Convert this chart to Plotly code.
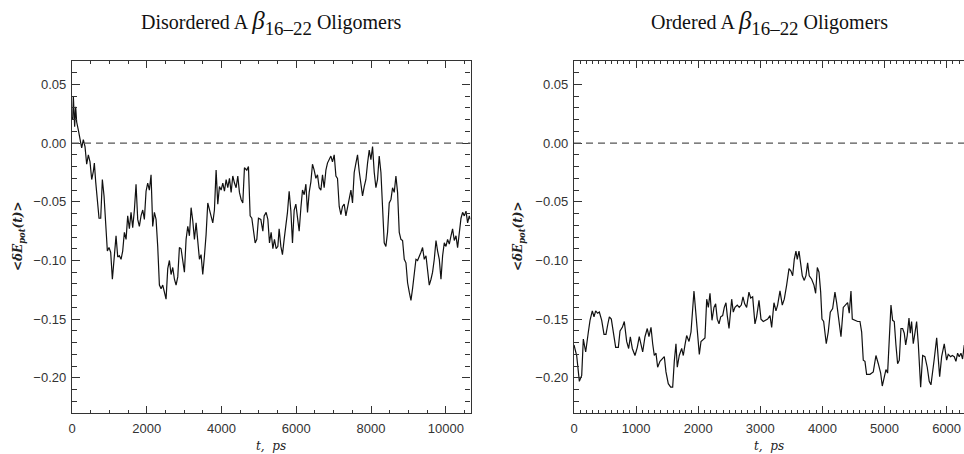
import plotly.graph_objects as go

# Disordered oligomers: time (ps) and <dE_pot(t)>
t_dis = [0, 18, 36, 71, 98, 125, 170, 214, 259, 303, 348, 393, 437, 482, 527, 571, 598, 634, 678, 723,
         768, 812, 857, 901, 946, 990, 1035, 1080, 1124, 1178, 1223, 1267, 1312, 1356, 1401, 1446, 1490,
         1535, 1579, 1624, 1669, 1713, 1758, 1802, 1847, 1892, 1936, 1981, 2025, 2070, 2115, 2159, 2204,
         2249, 2293, 2338, 2383, 2427, 2472, 2516, 2561, 2606, 2650, 2695, 2740, 2784, 2829, 2873, 2918,
         2963, 3007, 3052, 3097, 3141, 3186, 3230, 3275, 3320, 3364, 3409, 3453, 3498, 3543, 3587, 3632,
         3677, 3721, 3766, 3810, 3855, 3900, 3944, 3989, 4034, 4078, 4123, 4167, 4212, 4257, 4301, 4346,
         4390, 4435, 4479, 4524, 4569, 4613, 4676, 4720, 4765, 4810, 4854, 4899, 4944, 4988, 5051, 5105,
         5140, 5193, 5239, 5283, 5327, 5373, 5416, 5461, 5507, 5541, 5587, 5630, 5675, 5721, 5764, 5809,
         5855, 5898, 5943, 5988, 6031, 6077, 6123, 6166, 6211, 6257, 6300, 6345, 6390, 6433, 6478, 6524,
         6567, 6612, 6658, 6701, 6746, 6792, 6834, 6880, 6925, 6968, 7014, 7060, 7102, 7148, 7193, 7236,
         7281, 7327, 7370, 7415, 7461, 7504, 7549, 7595, 7638, 7683, 7729, 7772, 7817, 7862, 7906, 7951,
         7996, 8040, 8085, 8130, 8173, 8218, 8264, 8307, 8352, 8397, 8441, 8486, 8532, 8575, 8620, 8665,
         8709, 8754, 8799, 8843, 8888, 8933, 8977, 9022, 9067, 9110, 9156, 9201, 9244, 9289, 9335, 9378,
         9423, 9469, 9512, 9557, 9603, 9646, 9691, 9737, 9780, 9825, 9870, 9914, 9959, 10004, 10047,
         10093, 10138, 10181, 10226, 10272, 10315, 10360, 10406, 10449, 10494, 10540, 10583, 10628, 10654]
e_dis = [0.022, 0.020, 0.040, 0.014, 0.031, 0.018, 0.011, 0.003, -0.004, 0.003, -0.003, -0.018, -0.010,
         -0.016, -0.031, -0.024, -0.017, -0.033, -0.048, -0.064, -0.064, -0.031, -0.045, -0.071, -0.092,
         -0.089, -0.093, -0.116, -0.096, -0.079, -0.097, -0.096, -0.099, -0.092, -0.076, -0.082, -0.062,
         -0.073, -0.059, -0.072, -0.057, -0.035, -0.065, -0.071, -0.062, -0.057, -0.065, -0.041, -0.034,
         -0.040, -0.027, -0.071, -0.059, -0.065, -0.088, -0.121, -0.124, -0.121, -0.127, -0.133, -0.107,
         -0.100, -0.112, -0.106, -0.116, -0.121, -0.114, -0.089, -0.090, -0.099, -0.110, -0.082, -0.071,
         -0.079, -0.055, -0.066, -0.082, -0.068, -0.083, -0.099, -0.095, -0.112, -0.096, -0.078, -0.051,
         -0.057, -0.062, -0.068, -0.057, -0.023, -0.052, -0.037, -0.040, -0.034, -0.041, -0.031, -0.038,
         -0.030, -0.042, -0.028, -0.034, -0.038, -0.028, -0.042, -0.048, -0.051, -0.021, -0.023, -0.020,
         -0.062, -0.064, -0.076, -0.085, -0.082, -0.064, -0.065, -0.075, -0.062, -0.059, -0.065, -0.085,
         -0.076, -0.090, -0.082, -0.090, -0.088, -0.073, -0.088, -0.095, -0.082, -0.071, -0.059, -0.041,
         -0.058, -0.085, -0.057, -0.052, -0.065, -0.075, -0.055, -0.040, -0.044, -0.035, -0.059, -0.042,
         -0.033, -0.018, -0.023, -0.030, -0.027, -0.038, -0.040, -0.027, -0.038, -0.023, -0.017, -0.014,
         -0.011, -0.016, -0.010, -0.028, -0.030, -0.054, -0.061, -0.054, -0.052, -0.062, -0.055, -0.048,
         -0.040, -0.051, -0.025, -0.017, -0.010, -0.024, -0.037, -0.045, -0.037, -0.031, -0.017, -0.006,
         -0.014, -0.003, -0.025, -0.038, -0.031, -0.011, -0.025, -0.057, -0.085, -0.088, -0.076, -0.051,
         -0.048, -0.038, -0.042, -0.028, -0.042, -0.076, -0.082, -0.083, -0.099, -0.102, -0.119, -0.127,
         -0.134, -0.124, -0.113, -0.099, -0.100, -0.097, -0.093, -0.089, -0.099, -0.096, -0.106, -0.121,
         -0.116, -0.110, -0.099, -0.083, -0.092, -0.099, -0.116, -0.096, -0.085, -0.088, -0.082, -0.086,
         -0.079, -0.073, -0.083, -0.079, -0.089, -0.076, -0.064, -0.059, -0.062, -0.058, -0.068, -0.062,
         -0.065]

# Ordered oligomers: time (ps) and <dE_pot(t)>
t_ord = [0, 43, 86, 124, 150, 188, 231, 258, 295, 322, 349, 381, 408, 446, 483, 515, 542, 569, 601, 633,
         671, 714, 741, 778, 810, 848, 880, 907, 939, 982, 1019, 1051, 1079, 1106, 1143, 1180, 1207, 1240,
         1267, 1293, 1320, 1347, 1385, 1422, 1454, 1481, 1518, 1557, 1589, 1615, 1642, 1663, 1695, 1734,
         1760, 1787, 1814, 1852, 1884, 1932, 1964, 2002, 2018, 2045, 2082, 2109, 2137, 2163, 2190, 2222,
         2254, 2281, 2307, 2335, 2362, 2394, 2420, 2447, 2468, 2496, 2539, 2565, 2592, 2629, 2661, 2694,
         2721, 2748, 2780, 2817, 2845, 2877, 2914, 2941, 2979, 3011, 3048, 3086, 3118, 3156, 3183, 3220,
         3252, 3279, 3317, 3354, 3386, 3424, 3462, 3494, 3521, 3547, 3574, 3595, 3623, 3676, 3708, 3735,
         3762, 3788, 3827, 3864, 3891, 3918, 3945, 3972, 3993, 4020, 4062, 4094, 4127, 4165, 4202, 4229,
         4267, 4299, 4336, 4374, 4406, 4432, 4460, 4481, 4524, 4568, 4605, 4632, 4658, 4685, 4712, 4766,
         4819, 4862, 4900, 4938, 4964, 4996, 5023, 5050, 5077, 5104, 5131, 5157, 5184, 5211, 5238, 5265,
         5292, 5318, 5341, 5366, 5394, 5415, 5436, 5463, 5490, 5517, 5544, 5582, 5614, 5651, 5688, 5720,
         5748, 5774, 5801, 5840, 5865, 5888, 5920, 5962, 6000, 6026, 6065, 6091, 6123, 6150, 6177, 6203,
         6231, 6257, 6284]
e_ord = [-0.172, -0.181, -0.203, -0.198, -0.167, -0.178, -0.161, -0.151, -0.143, -0.148, -0.143, -0.145,
         -0.144, -0.151, -0.163, -0.163, -0.155, -0.148, -0.150, -0.161, -0.174, -0.174, -0.160, -0.157,
         -0.152, -0.169, -0.175, -0.165, -0.175, -0.181, -0.174, -0.165, -0.172, -0.178, -0.165, -0.158,
         -0.165, -0.157, -0.171, -0.181, -0.179, -0.191, -0.186, -0.184, -0.182, -0.195, -0.205, -0.208,
         -0.208, -0.186, -0.171, -0.191, -0.181, -0.175, -0.181, -0.172, -0.164, -0.169, -0.161, -0.126,
         -0.147, -0.175, -0.180, -0.169, -0.167, -0.166, -0.133, -0.140, -0.128, -0.151, -0.140, -0.137,
         -0.150, -0.154, -0.148, -0.147, -0.140, -0.136, -0.147, -0.158, -0.133, -0.144, -0.140, -0.138,
         -0.140, -0.138, -0.131, -0.137, -0.140, -0.127, -0.132, -0.131, -0.154, -0.148, -0.134, -0.150,
         -0.152, -0.151, -0.150, -0.147, -0.157, -0.136, -0.143, -0.138, -0.126, -0.138, -0.133, -0.121,
         -0.107, -0.109, -0.113, -0.099, -0.092, -0.099, -0.092, -0.113, -0.117, -0.113, -0.102, -0.113,
         -0.116, -0.121, -0.128, -0.106, -0.110, -0.127, -0.150, -0.152, -0.171, -0.161, -0.144, -0.141,
         -0.127, -0.136, -0.155, -0.165, -0.140, -0.138, -0.136, -0.145, -0.126, -0.150, -0.151, -0.152,
         -0.152, -0.161, -0.185, -0.186, -0.197, -0.197, -0.195, -0.181, -0.188, -0.196, -0.207, -0.198,
         -0.193, -0.196, -0.172, -0.138, -0.151, -0.152, -0.172, -0.188, -0.185, -0.158, -0.158, -0.162,
         -0.172, -0.164, -0.149, -0.162, -0.152, -0.171, -0.162, -0.152, -0.171, -0.208, -0.181, -0.182,
         -0.191, -0.203, -0.206, -0.196, -0.184, -0.166, -0.184, -0.199, -0.182, -0.171, -0.185, -0.180,
         -0.182, -0.181, -0.182, -0.186, -0.179, -0.182, -0.179, -0.184, -0.172]

y_ticks = [0.05, 0.00, -0.05, -0.10, -0.15, -0.20]
y_tick_text = ["0.05", "0.00", "\u22120.05", "\u22120.10", "\u22120.15", "\u22120.20"]
dis_x_ticks = [0, 2000, 4000, 6000, 8000, 10000]
ord_x_ticks = [0, 1000, 2000, 3000, 4000, 5000, 6000]

W, H = 964, 454
AXIS = "#333333"
TICKFONT = dict(family="Liberation Sans, Arial, sans-serif", size=13, color="#333333")

fig = go.Figure()
fig.add_trace(go.Scatter(x=t_dis, y=e_dis, mode="lines", xaxis="x", yaxis="y",
                         line=dict(color="#111111", width=1.2), showlegend=False))
fig.add_trace(go.Scatter(x=t_ord, y=e_ord, mode="lines", xaxis="x2", yaxis="y2",
                         line=dict(color="#111111", width=1.2), showlegend=False))


def xaxis(domain, rng, ticks, minor_step):
    return dict(domain=domain, range=rng, tickmode="array", tickvals=ticks,
                ticktext=[str(v) for v in ticks], ticks="inside", ticklen=7, tickwidth=1,
                tickcolor=AXIS, showline=True, linecolor=AXIS, linewidth=1.3, mirror="allticks",
                minor=dict(ticks="inside", ticklen=3, dtick=minor_step, tickcolor=AXIS, tickwidth=1),
                showgrid=False, zeroline=False, tickfont=TICKFONT, automargin=False,
                ticklabelstandoff=3)


def yaxis(anchor, mirror):
    return dict(domain=[(H - 413) / H, (H - 61) / H], range=[-0.23, 0.07], anchor=anchor,
                tickmode="array", tickvals=y_ticks, ticktext=y_tick_text, ticks="inside",
                ticklen=8, tickwidth=1, tickcolor=AXIS, showline=True, linecolor=AXIS,
                linewidth=1.3, mirror=mirror,
                minor=dict(ticks="inside", ticklen=5, dtick=0.01, tickcolor=AXIS, tickwidth=1),
                showgrid=False, zeroline=False, tickfont=TICKFONT, automargin=False,
                ticklabelstandoff=2)


fig.update_layout(
    width=W, height=H, margin=dict(l=0, r=0, t=0, b=0),
    paper_bgcolor="white", plot_bgcolor="white",
    xaxis=dict(**xaxis([72 / W, 470.5 / W], [0, 10660], dis_x_ticks, 500), anchor="y"),
    yaxis=yaxis("x", "allticks"),
    xaxis2=dict(**xaxis([574 / W, 1.0], [0, 6280], ord_x_ticks, 100), anchor="y2"),
    yaxis2=yaxis("x2", False),
)

# dashed zero reference line in each panel
for xr, yr in (("x domain", "y"), ("x2 domain", "y2")):
    fig.add_shape(type="line", xref=xr, yref=yr, x0=0, x1=1, y0=0, y1=0,
                  line=dict(color="#555555", width=1.1, dash="7px,5px"))

TITLE_FONT = dict(family="Liberation Serif, Times New Roman, serif", size=20, color="#111111")
BETA = "\u2009<span style='font-size:25px'><i>\u03b2</i></span>"
SUB = "<span style='font-size:27px'><sub>16\u201322</sub></span>"
panel_titles = [
    ("Disordered A" + BETA + SUB + " Oligomers", "x domain"),
    ("Ordered A" + BETA + SUB + " Oligomers", "x2 domain"),
]
for text, xr in panel_titles:
    fig.add_annotation(text=text, xref=xr, yref="paper", x=0.5, y=(H - 23) / H,
                       showarrow=False, font=TITLE_FONT, xanchor="center", yanchor="middle")

LABEL_FONT = dict(family="DejaVu Serif, serif", size=12, color="#222222")
ylabel = "<b><i>&lt;\u03b4E</i><sub><i>pot</i></sub><i>(t)&gt;</i></b>"
xlabel = "<i>t,  ps</i>"
for xr, px in (("x domain", 19), ("x2 domain", 519)):
    fig.add_annotation(text=xlabel, xref=xr, yref="paper", x=0.5, y=(H - 446) / H,
                       showarrow=False, font=LABEL_FONT, xanchor="center", yanchor="middle")
    fig.add_annotation(text=ylabel, xref="paper", yref="paper", x=px / W, y=(H - 237) / H,
                       showarrow=False, font=LABEL_FONT, textangle=-90,
                       xanchor="center", yanchor="middle")

fig.write_html("out.html")
